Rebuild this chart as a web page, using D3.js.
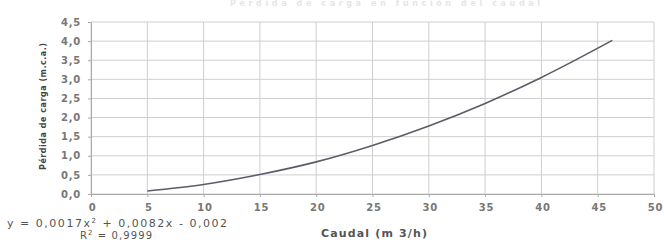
<!DOCTYPE html>
<html>
<head>
<meta charset="utf-8">
<script src="https://cdn.jsdelivr.net/npm/d3@7"></script>
<style>
  body { margin: 0; background: #fff; }
  text { font-family: "DejaVu Sans", Arial, sans-serif; }
</style>
</head>
<body>
<svg id="chart" width="664" height="240"></svg>
<script>
// caudal (m3/h) vs pérdida de carga (m.c.a.)
const caudal = [5, 10, 15, 20, 25, 30, 35, 40, 46.3];
const perdida = [0.08, 0.25, 0.51, 0.84, 1.27, 1.78, 2.37, 3.05, 4.02];
const xTicks = [0, 5, 10, 15, 20, 25, 30, 35, 40, 45, 50];
const yTicks = [0, 0.5, 1, 1.5, 2, 2.5, 3, 3.5, 4, 4.5];

const svg = d3.select('#chart');
const margin = { left: 91, right: 10, top: 22, bottom: 46 };
const width = 664, height = 240;

const x = d3.scaleLinear().domain([0, 50]).range([margin.left, width - margin.right]);
const y = d3.scaleLinear().domain([0, 4.5]).range([height - margin.bottom, margin.top]);
const fmt = d => d3.format('.1f')(d).replace('.', ',');

// faint title, mostly cut at the top in the original
svg.append('text')
  .attr('x', 385).attr('y', 6)
  .attr('text-anchor', 'middle')
  .attr('font-size', 8).attr('font-weight', 'bold')
  .attr('fill', '#e6e6e6')
  .attr('textLength', 310).attr('lengthAdjust', 'spacing')
  .text('Pérdida de carga en función del caudal');

// grid
svg.append('g')
  .selectAll('line')
  .data(yTicks)
  .join('line')
  .attr('x1', x(0)).attr('x2', x(50))
  .attr('y1', d => y(d)).attr('y2', d => y(d))
  .attr('stroke', '#cfcfcf');

svg.append('g')
  .selectAll('line')
  .data(xTicks)
  .join('line')
  .attr('x1', d => x(d)).attr('x2', d => x(d))
  .attr('y1', y(0)).attr('y2', y(4.5))
  .attr('stroke', '#cfcfcf');

// axes
const xAxis = svg.append('g')
  .attr('transform', `translate(0,${y(0)})`)
  .call(d3.axisBottom(x).tickValues(xTicks).tickSize(3).tickPadding(7));
const yAxis = svg.append('g')
  .attr('transform', `translate(${x(0)},0)`)
  .call(d3.axisLeft(y).tickValues(yTicks).tickFormat(fmt).tickSize(3).tickPadding(7));

[xAxis, yAxis].forEach(a => {
  a.select('.domain').attr('stroke', '#aaa');
  a.selectAll('.tick line').attr('stroke', '#aaa');
  a.selectAll('.tick text')
    .attr('font-size', 10).attr('font-weight', 'bold')
    .attr('letter-spacing', 0.8)
    .attr('fill', '#777');
});
xAxis.selectAll('.tick text').attr('dx', 1);

// curve
svg.append('path')
  .datum(caudal.map((c, i) => [c, perdida[i]]))
  .attr('d', d3.line().x(d => x(d[0])).y(d => y(d[1])).curve(d3.curveMonotoneX))
  .attr('fill', 'none')
  .attr('stroke', '#5a5d68')
  .attr('stroke-width', 1.6);

// axis titles
svg.append('text')
  .attr('transform', `translate(46,${(43 + 170) / 2}) rotate(-90)`)
  .attr('text-anchor', 'middle')
  .attr('font-size', 8).attr('font-weight', 'bold')
  .attr('fill', '#444')
  .attr('textLength', 127).attr('lengthAdjust', 'spacing')
  .text('Pérdida de carga (m.c.a.)');

svg.append('text')
  .attr('x', 374).attr('y', 237)
  .attr('text-anchor', 'middle')
  .attr('font-size', 11).attr('font-weight', 'bold')
  .attr('fill', '#555')
  .attr('textLength', 106).attr('lengthAdjust', 'spacing')
  .text('Caudal (m 3/h)');

// trendline equation
const eq = svg.append('g').attr('fill', '#555').attr('font-size', 11);
eq.append('text')
  .attr('x', 7).attr('y', 227)
  .attr('textLength', 220).attr('lengthAdjust', 'spacing')
  .html('y = 0,0017x<tspan dy="-4" font-size="7">2</tspan><tspan dy="4"> + 0,0082x - 0,002</tspan>');
eq.append('text')
  .attr('x', 80).attr('y', 239)
  .attr('font-size', 10)
  .attr('textLength', 72).attr('lengthAdjust', 'spacing')
  .html('R<tspan dy="-4" font-size="7">2</tspan><tspan dy="4"> = 0,9999</tspan>');
</script>
</body>
</html>
